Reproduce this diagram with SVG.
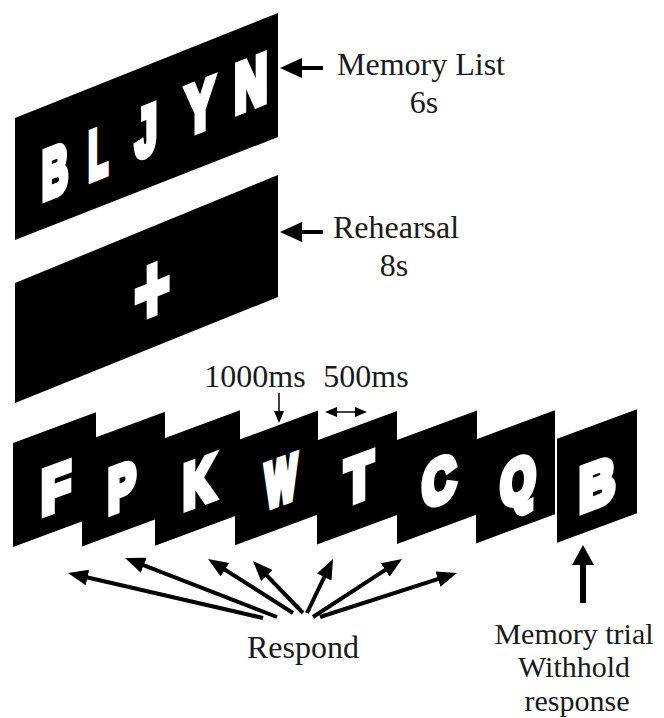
<svg xmlns="http://www.w3.org/2000/svg" width="664" height="718" viewBox="0 0 664 718">
  <style>
    .panel { fill: #000; }
    .glyph { font-family: "Liberation Sans", Arial, sans-serif; font-weight: bold; fill: #fff; stroke: #fff; stroke-width: 8; stroke-linejoin: miter; text-anchor: middle; }
    .big { font-size: 67px; }
    .small { font-size: 61px; }
    .label { font-family: "Liberation Serif", "Times New Roman", serif; font-size: 32px; fill: #1a1a1a; text-anchor: middle; }
    .note { font-size: 30px; }
    .thick { stroke: #000; stroke-width: 4; fill: none; }
    .thin { stroke: #000; stroke-width: 1.5; fill: none; }
    .shaft { stroke: #000; stroke-width: 6; fill: none; }
  </style>
  <defs>
    <marker id="fanHead" viewBox="0 0 20 16" markerUnits="userSpaceOnUse" markerWidth="20" markerHeight="16" refX="12" refY="8" orient="auto">
      <path d="M0,0 L20,8 L0,16 z" fill="#000"/>
    </marker>
    <marker id="sideHead" viewBox="0 0 22 20" markerUnits="userSpaceOnUse" markerWidth="22" markerHeight="20" refX="14" refY="10" orient="auto">
      <path d="M0,0 L22,10 L0,20 z" fill="#000"/>
    </marker>
    <marker id="upHead" viewBox="0 0 20 22" markerUnits="userSpaceOnUse" markerWidth="20" markerHeight="22" refX="12" refY="11" orient="auto">
      <path d="M0,0 L20,11 L0,22 z" fill="#000"/>
    </marker>
    <marker id="thinHead" viewBox="0 0 12 10" markerUnits="userSpaceOnUse" markerWidth="12" markerHeight="10" refX="10" refY="5" orient="auto-start-reverse">
      <path d="M0,0 L12,5 L0,10 z" fill="#000"/>
    </marker>
  </defs>

  <!-- memory list card -->
  <g id="memory-list">
    <polygon class="panel" points="15,118 278,13 278,137 15,240"/>
    <g class="glyph big">
      <text transform="translate(55,170) skewY(-21.8) scale(0.53,1)" x="0" y="24.4">B</text>
      <text transform="translate(98,152) skewY(-21.8) scale(0.47,1)" x="0" y="24.4">L</text>
      <text transform="translate(146,130) skewY(-21.8) scale(0.57,1)" x="0" y="24.4">J</text>
      <text transform="translate(200,105) skewY(-21.8) scale(0.63,1)" x="0" y="24.4">Y</text>
      <text transform="translate(251,82) skewY(-21.8) scale(0.67,1)" x="0" y="24.4">N</text>
    </g>
  </g>

  <!-- rehearsal card with fixation cross -->
  <g id="rehearsal">
    <polygon class="panel" points="15,283 278,175 278,297 15,403"/>
    <text class="glyph" style="font-size:90px; stroke-width:6" transform="translate(152,290) skewY(-21.8) scale(0.68,1.05)" x="0" y="30">+</text>
  </g>

  <!-- letter stream cards -->
  <g id="stream-F">
    <polygon class="panel" points="13,443 96,412.3 96,516.3 13,547"/>
  </g>
  <g id="stream-P">
    <polygon class="panel" points="82,442.4 165,411.7 165,515.7 82,546.4"/>
  </g>
  <g id="stream-K">
    <polygon class="panel" points="155,441.8 240,410.35 240,514.35 155,545.8"/>
  </g>
  <g id="stream-W">
    <polygon class="panel" points="235,441.2 318,410.5 318,514.5 235,545.2"/>
  </g>
  <g id="stream-T">
    <polygon class="panel" points="317,440.6 397,411 397,515 317,544.6"/>
  </g>
  <g id="stream-C">
    <polygon class="panel" points="397,440 477,410.4 477,514.4 397,544"/>
  </g>
  <g id="stream-Q">
    <polygon class="panel" points="476,439.4 555,410.2 555,514.2 476,543.4"/>
  </g>
  <g id="stream-B">
    <polygon class="panel" points="557,438.8 637,409.2 637,513.2 557,542.8"/>
  </g>
  <g id="stream-letters" class="glyph small">
    <text transform="translate(56,487) skewY(-20.3) scale(0.77,1)" x="0" y="22.2">F</text>
    <text transform="translate(122,486) skewY(-20.3) scale(0.67,1)" x="0" y="22.2">P</text>
    <text transform="translate(199,481) skewY(-20.3) scale(0.70,1)" x="0" y="22.2">K</text>
    <text transform="translate(281,480) skewY(-20.3) scale(0.54,1)" x="0" y="22.2">W</text>
    <text transform="translate(359,477) skewY(-20.3) scale(0.74,1)" x="0" y="22.2">T</text>
    <text transform="translate(439,480) skewY(-20.3) scale(0.75,1)" x="0" y="22.2">C</text>
    <text transform="translate(518,480) skewY(-20.3) scale(0.73,1)" x="0" y="22.2">Q</text>
    <text transform="translate(597,483) skewY(-20.3) scale(0.80,1)" x="0" y="22.2">B</text>
  </g>

  <!-- labels -->
  <g id="labels">
    <text class="label" x="421" y="75">Memory List</text>
    <text class="label" x="424" y="113">6s</text>
    <text class="label" x="396" y="238">Rehearsal</text>
    <text class="label" x="394" y="276">8s</text>
    <text class="label" x="255" y="387">1000ms</text>
    <text class="label" x="366" y="387">500ms</text>
    <text class="label" x="303" y="658">Respond</text>
    <text class="label note" x="574" y="644">Memory trial</text>
    <text class="label note" x="574" y="677.4">Withhold</text>
    <text class="label note" x="577" y="710.8">response</text>
  </g>

  <!-- connectors -->
  <g id="connectors">
    <line class="thick" x1="323" y1="68" x2="288" y2="68" marker-end="url(#sideHead)"/>
    <line class="thick" x1="323" y1="232" x2="288" y2="232" marker-end="url(#sideHead)"/>
    <line class="thin" x1="279" y1="393" x2="279" y2="421" marker-end="url(#thinHead)"/>
    <line class="thin" x1="327" y1="412" x2="365" y2="412" marker-start="url(#thinHead)" marker-end="url(#thinHead)"/>
    <line class="thick" x1="263" y1="618" x2="75.8" y2="574.8" marker-end="url(#fanHead)"/>
    <line class="thick" x1="277" y1="617" x2="132.5" y2="560.9" marker-end="url(#fanHead)"/>
    <line class="thick" x1="293" y1="613" x2="214.8" y2="563.3" marker-end="url(#fanHead)"/>
    <line class="thick" x1="303" y1="613" x2="258.5" y2="566.8" marker-end="url(#fanHead)"/>
    <line class="thick" x1="307" y1="613" x2="329.5" y2="566.2" marker-end="url(#fanHead)"/>
    <line class="thick" x1="313" y1="617" x2="395.3" y2="563.4" marker-end="url(#fanHead)"/>
    <line class="thick" x1="320" y1="617" x2="449.4" y2="575.4" marker-end="url(#fanHead)"/>
    <line class="shaft" x1="583" y1="603" x2="583" y2="553" marker-end="url(#upHead)"/>
  </g>
</svg>
